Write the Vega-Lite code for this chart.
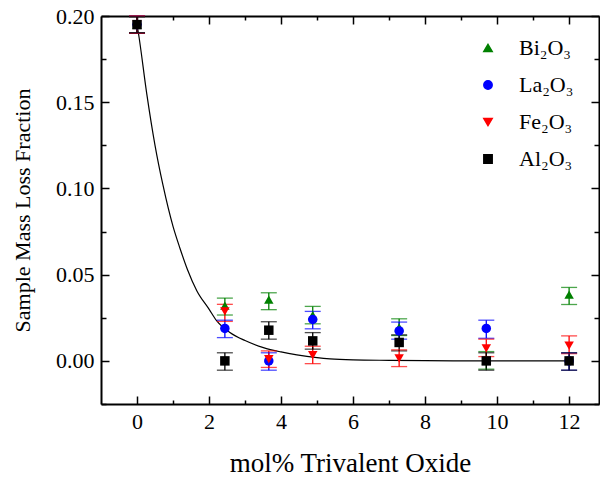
{
  "$schema": "https://vega.github.io/schema/vega-lite/v6.json",
  "width": 498,
  "height": 388,
  "autosize": {"type": "none"},
  "padding": {"left": 101, "top": 16, "right": 1, "bottom": 76},
  "background": "white",
  "config": {
    "view": {"stroke": null},
    "font": "Liberation Serif",
    "axis": {"domainColor": "black", "domainWidth": 2, "tickColor": "black", "tickWidth": 1.5, "labelColor": "black", "titleColor": "black", "labelFont": "Liberation Serif", "titleFont": "Liberation Serif", "titleFontWeight": "normal", "grid": false},
    "legend": {"labelFont": "Liberation Serif", "symbolOpacity": 1}
  },
  "datasets": {
    "pts": [
      {"oxide": "Bi₂O₃", "x": 0, "y": 0.195, "lo": 0.190, "hi": 0.200},
      {"oxide": "Bi₂O₃", "x": 2.44, "y": 0.032, "lo": 0.0266, "hi": 0.0364},
      {"oxide": "Bi₂O₃", "x": 3.66, "y": 0.0355, "lo": 0.0297, "hi": 0.0395},
      {"oxide": "Bi₂O₃", "x": 4.88, "y": 0.0266, "lo": 0.0215, "hi": 0.0316},
      {"oxide": "Bi₂O₃", "x": 7.28, "y": 0.0194, "lo": 0.0147, "hi": 0.0244},
      {"oxide": "Bi₂O₃", "x": 9.7, "y": 0.0003, "lo": -0.0048, "hi": 0.0054},
      {"oxide": "Bi₂O₃", "x": 12, "y": 0.0384, "lo": 0.0327, "hi": 0.0426},
      {"oxide": "La₂O₃", "x": 0, "y": 0.195, "lo": 0.190, "hi": 0.200},
      {"oxide": "La₂O₃", "x": 2.44, "y": 0.0188, "lo": 0.0135, "hi": 0.0236},
      {"oxide": "La₂O₃", "x": 3.66, "y": 0.0, "lo": -0.0054, "hi": 0.0047},
      {"oxide": "La₂O₃", "x": 4.88, "y": 0.024, "lo": 0.0186, "hi": 0.0287},
      {"oxide": "La₂O₃", "x": 7.28, "y": 0.0174, "lo": 0.0126, "hi": 0.0225},
      {"oxide": "La₂O₃", "x": 9.7, "y": 0.0188, "lo": 0.0131, "hi": 0.0236},
      {"oxide": "La₂O₃", "x": 12, "y": 0.0, "lo": -0.0054, "hi": 0.0047},
      {"oxide": "Fe₂O₃", "x": 0, "y": 0.195, "lo": 0.190, "hi": 0.200},
      {"oxide": "Fe₂O₃", "x": 2.44, "y": 0.0287, "lo": 0.0229, "hi": 0.0328},
      {"oxide": "Fe₂O₃", "x": 3.66, "y": 0.001, "lo": -0.0038, "hi": 0.0058},
      {"oxide": "Fe₂O₃", "x": 4.88, "y": 0.0033, "lo": -0.0016, "hi": 0.0085},
      {"oxide": "Fe₂O₃", "x": 7.28, "y": 0.0014, "lo": -0.0033, "hi": 0.0064},
      {"oxide": "Fe₂O₃", "x": 9.7, "y": 0.0072, "lo": 0.0025, "hi": 0.0126},
      {"oxide": "Fe₂O₃", "x": 12, "y": 0.0089, "lo": 0.0042, "hi": 0.0145},
      {"oxide": "Al₂O₃", "x": 0, "y": 0.195, "lo": 0.1903, "hi": 0.1995},
      {"oxide": "Al₂O₃", "x": 2.44, "y": 0.0, "lo": -0.0054, "hi": 0.0047},
      {"oxide": "Al₂O₃", "x": 3.66, "y": 0.0178, "lo": 0.0126, "hi": 0.0227},
      {"oxide": "Al₂O₃", "x": 4.88, "y": 0.0116, "lo": 0.0068, "hi": 0.0164},
      {"oxide": "Al₂O₃", "x": 7.28, "y": 0.0107, "lo": 0.0058, "hi": 0.0151},
      {"oxide": "Al₂O₃", "x": 9.7, "y": 0.0, "lo": -0.0054, "hi": 0.0047},
      {"oxide": "Al₂O₃", "x": 12, "y": 0.0, "lo": -0.0054, "hi": 0.0047}
    ],
    "curve": [
      {"x": 0, "y": 0.195},
      {"x": 0.04, "y": 0.19},
      {"x": 0.27, "y": 0.155},
      {"x": 0.5, "y": 0.125},
      {"x": 0.72, "y": 0.102},
      {"x": 1.0, "y": 0.078},
      {"x": 1.19, "y": 0.0655},
      {"x": 1.4, "y": 0.053},
      {"x": 1.66, "y": 0.0407},
      {"x": 2.0, "y": 0.030},
      {"x": 2.21, "y": 0.0233},
      {"x": 2.58, "y": 0.0165},
      {"x": 3.0, "y": 0.0118},
      {"x": 3.51, "y": 0.0077},
      {"x": 4.0, "y": 0.0052},
      {"x": 4.44, "y": 0.0035},
      {"x": 5.0, "y": 0.0019},
      {"x": 5.36, "y": 0.0012},
      {"x": 6.0, "y": 0.0006},
      {"x": 7.0, "y": 0.0003},
      {"x": 8.0, "y": 0.0001},
      {"x": 9.0, "y": 0.00005},
      {"x": 10.0, "y": 0.0},
      {"x": 12.0, "y": 0.0}
    ]
  },
  "layer": [
    {
      "data": {"name": "curve"},
      "mark": {"type": "line", "color": "black", "strokeWidth": 1.2, "interpolate": "monotone"},
      "encoding": {
        "x": {"field": "x", "type": "quantitative", "scale": {"domain": [-1, 12.83], "nice": false, "zero": false},
          "axis": {"orient": "bottom", "values": [0, 2, 4, 6, 8, 10, 12], "tickSize": -8, "labelPadding": 15, "labelFontSize": 22, "labelFont": "Liberation Serif", "title": "mol% Trivalent Oxide", "titleFont": "Liberation Serif", "titleFontSize": 27, "titlePadding": 18}},
        "y": {"field": "y", "type": "quantitative", "scale": {"domain": [-0.025, 0.2], "nice": false, "zero": false},
          "axis": {"orient": "left", "values": [0, 0.05, 0.1, 0.15, 0.2], "format": ".2f", "tickSize": -8, "labelPadding": 15, "labelFontSize": 22, "labelFont": "Liberation Serif", "title": "Sample Mass Loss Fraction", "titleFont": "Liberation Serif", "titleFontSize": 22, "titlePadding": 21}}
      }
    },
    {
      "data": {"name": "pts"},
      "mark": {"type": "rule", "strokeWidth": 1.3},
      "encoding": {
        "x": {"field": "x", "type": "quantitative", "axis": {"orient": "top", "values": [0, 2, 4, 6, 8, 10, 12], "tickSize": -8, "labels": false, "title": null}},
        "y": {"field": "lo", "type": "quantitative", "axis": {"orient": "right", "values": [0, 0.05, 0.1, 0.15, 0.2], "tickSize": -8, "labels": false, "title": null}},
        "y2": {"field": "hi"},
        "color": {"field": "oxide", "type": "nominal", "scale": {"domain": ["Bi₂O₃", "La₂O₃", "Fe₂O₃", "Al₂O₃"], "range": ["#008000", "#0000ff", "#ff0000", "#000000"]}}
      }
    },
    {
      "data": {"name": "pts"},
      "mark": {"type": "tick", "orient": "horizontal", "size": 16, "thickness": 1.3},
      "encoding": {
        "x": {"field": "x", "type": "quantitative", "axis": {"orient": "bottom", "values": [1, 3, 5, 7, 9, 11], "tickSize": -4, "labels": false, "domain": false, "title": null}},
        "y": {"field": "lo", "type": "quantitative", "axis": {"orient": "left", "values": [-0.025, 0.025, 0.075, 0.125, 0.175], "tickSize": -5, "labels": false, "domain": false, "title": null}},
        "color": {"field": "oxide", "type": "nominal"}
      }
    },
    {
      "data": {"name": "pts"},
      "mark": {"type": "tick", "orient": "horizontal", "size": 16, "thickness": 1.3},
      "encoding": {
        "x": {"field": "x", "type": "quantitative", "axis": {"orient": "top", "values": [1, 3, 5, 7, 9, 11], "tickSize": -4, "labels": false, "domain": false, "title": null}},
        "y": {"field": "hi", "type": "quantitative", "axis": {"orient": "right", "values": [-0.025, 0.025, 0.075, 0.125, 0.175], "tickSize": -5, "labels": false, "domain": false, "title": null}},
        "color": {"field": "oxide", "type": "nominal"}
      }
    },
    {
      "data": {"name": "pts"},
      "mark": {"type": "point", "filled": true, "opacity": 1, "fillOpacity": 1, "size": 90},
      "encoding": {
        "x": {"field": "x", "type": "quantitative", "axis": null},
        "y": {"field": "y", "type": "quantitative", "axis": null},
        "color": {"field": "oxide", "type": "nominal",
          "legend": {"orient": "none", "legendX": 376, "legendY": 21, "title": null, "labelFontSize": 22, "labelFont": "Liberation Serif", "labelColor": "black", "symbolSize": 70, "symbolOpacity": 1, "labelOffset": 20, "rowPadding": 15, "padding": 0}},
        "shape": {"field": "oxide", "type": "nominal", "scale": {"domain": ["Bi₂O₃", "La₂O₃", "Fe₂O₃", "Al₂O₃"], "range": ["triangle-up", "circle", "triangle-down", "square"]}}
      }
    }
  ],
  "resolve": {"axis": {"x": "independent", "y": "independent"}}
}
